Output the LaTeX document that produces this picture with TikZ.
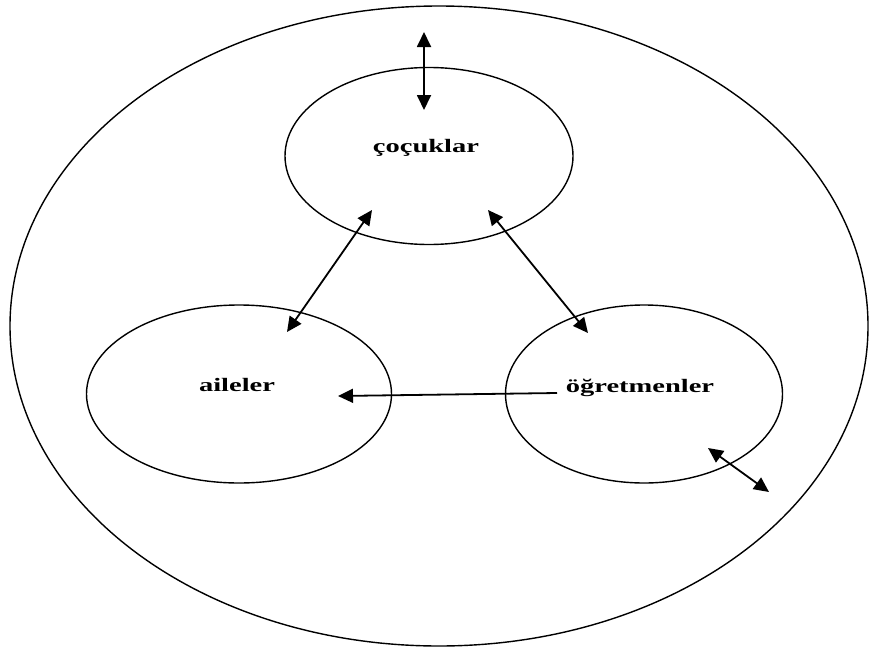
\documentclass[tikz,border=0pt]{standalone}
\usepackage{fontspec}
\setmainfont{Liberation Serif}
\usetikzlibrary{shapes.geometric,arrows.meta}
\begin{document}
\begin{tikzpicture}[x=1pt,y=-1pt,
  ring/.style={draw,ellipse,line width=1.4pt,inner sep=0pt},
  tag/.style={anchor=base,inner sep=0pt,font=\bfseries\fontsize{19}{22}\selectfont},
  link/.style={line width=1.8pt,{Triangle[length=15pt,width=14pt]}-{Triangle[length=15pt,width=14pt]}},
  oneway/.style={line width=1.8pt,-{Triangle[length=15pt,width=14pt]}}]
  \useasboundingbox (0,0) rectangle (869,653);

  % outer boundary and the three groups
  \node[ring,minimum width=858pt,minimum height=640pt] (env) at (439,326) {};
  \node[ring,minimum width=288pt,minimum height=177pt] (cocuk) at (429,156) {};
  \node[ring,minimum width=305pt,minimum height=178pt] (aile) at (239,394) {};
  \node[ring,minimum width=277pt,minimum height=178pt] (ogret) at (644,394) {};

  % labels
  \node[tag] (tcocuk) at (426,152) {\scalebox{1.5}[1]{çoçuklar}};
  \node[tag] (taile) at (237,391) {\scalebox{1.5}[1]{aileler}};
  \node[tag] (togret) at (640,392) {\scalebox{1.5}[1]{öğretmenler}};

  % arrow end points
  \coordinate (c1) at (424,32);
  \coordinate (c2) at (424,110);
  \coordinate (c3) at (372,210);
  \coordinate (a1) at (287,332);
  \coordinate (c4) at (488,210);
  \coordinate (o1) at (588,333);
  \coordinate (o2) at (557,393);
  \coordinate (a2) at (338,396);
  \coordinate (o3) at (708,448);
  \coordinate (e1) at (769,492);

  % interactions
  \draw[link] (c1) -- (c2);
  \draw[link] (c3) -- (a1);
  \draw[link] (c4) -- (o1);
  \draw[oneway] (o2) -- (a2);
  \draw[link] (o3) -- (e1);
\end{tikzpicture}
\end{document}
